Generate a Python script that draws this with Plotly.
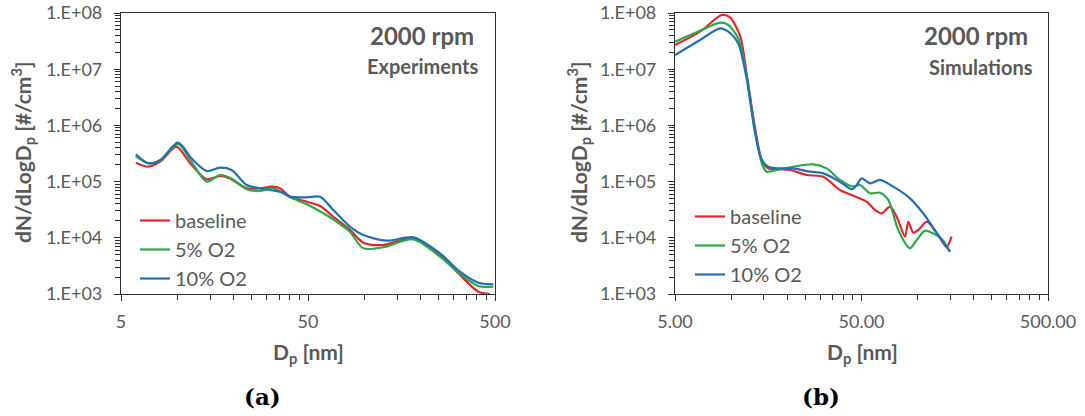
import plotly.graph_objects as go

# ---- Experiments (2000 rpm) : particle size distributions ----
exp_base_dp = [6.0, 7.0, 8.1, 9.9, 11.7, 14.4, 16.9, 19.1, 23.5, 27.7, 32.0, 35.4, 40.1,
               49.2, 58.0, 68.3, 83.8, 98.8, 126, 183, 254, 325, 407, 470]
exp_base_n = [2.17e5, 1.84e5, 2.26e5, 4.18e5, 2.12e5, 1.10e5, 1.26e5, 1.14e5, 7.6e4, 7.6e4,
              8.12e4, 7.6e4, 5.39e4, 4.39e4, 3.68e4, 2.37e4, 1.38e4, 8.18e3, 7.44e3, 9.8e3,
              4.94e3, 2.18e3, 1.10e3, 1.0e3]

exp_o5_dp = [6.0, 7.0, 8.1, 10.1, 11.9, 14.4, 16.9, 19.5, 23.5, 27.7, 32.6, 40.1, 49.2,
             60.4, 71.2, 83.8, 98.8, 126, 183, 254, 325, 407, 490]
exp_o5_n = [2.85e5, 2.12e5, 2.35e5, 4.67e5, 2.26e5, 9.96e4, 1.31e5, 1.14e5, 7.29e4, 6.8e4,
            7.6e4, 5.26e4, 3.95e4, 2.73e4, 1.93e4, 1.28e4, 6.51e3, 6.78e3, 9.4e3, 4.61e3,
            2.27e3, 1.39e3, 1.35e3]

exp_o10_dp = [6.0, 7.0, 8.1, 10.1, 11.9, 14.4, 16.9, 19.5, 23.5, 27.7, 31.3, 36.9, 40.1,
              49.2, 58.0, 68.3, 83.8, 98.8, 132, 183, 254, 325, 407, 490]
exp_o10_n = [3.06e5, 2.12e5, 2.42e5, 4.92e5, 2.6e5, 1.54e5, 1.77e5, 1.61e5, 8.7e4, 7.6e4,
             7.09e4, 6.35e4, 5.39e4, 5.26e4, 5.39e4, 3.12e4, 1.58e4, 1.12e4, 8.88e3, 1.02e4,
             5.3e3, 2.49e3, 1.59e3, 1.49e3]

# ---- Simulations (2000 rpm) ----
sim_base_dp = [5.0, 6.81, 8.9, 9.86, 11.2, 12.1, 13.4, 14.6, 15.8, 18.3, 20.7, 25.4, 31.2,
               38.3, 45.2, 53.3, 59.1, 64.2, 71.1, 77.2, 85.6, 89.1, 94.8, 101, 112, 127,
               143, 152]
sim_base_n = [2.7e7, 4.65e7, 9.21e7, 8.39e7, 3.79e7, 8.45e6, 9.48e5, 2.42e5, 1.72e5, 1.66e5,
              1.61e5, 1.31e5, 1.22e5, 7.09e4, 5.61e4, 4.39e4, 3.12e4, 2.73e4, 3.58e4, 2.37e4,
              1.05e4, 1.93e4, 1.23e4, 1.38e4, 1.93e4, 1.2e4, 6.94e3, 1.05e4]

sim_o5_dp = [5.0, 6.81, 8.72, 9.66, 10.9, 12.1, 13.4, 14.6, 15.5, 17.6, 21.5, 27.6, 32.5,
             38.3, 45.2, 49.1, 55.5, 62.8, 69.6, 78.7, 91.0, 98.8, 109.5, 121, 135, 149]
sim_o5_n = [3.09e7, 4.84e7, 6.72e7, 6.12e7, 3.55e7, 7.89e6, 8.28e5, 2.12e5, 1.5e5, 1.61e5,
            1.84e5, 2.03e5, 1.72e5, 1.07e5, 8.12e4, 8.7e4, 6.19e4, 6.35e4, 4.71e4, 1.38e4,
            6.51e3, 9.14e3, 1.34e4, 1.2e4, 9.4e3, 5.66e3]

sim_o10_dp = [5.0, 6.81, 8.72, 9.66, 10.9, 12.1, 13.4, 14.6, 15.8, 18.3, 21.5, 26.5, 31.2,
              38.3, 44.3, 47.1, 50.1, 55.5, 62.8, 74.0, 91.0, 107, 127, 149]
sim_o10_n = [1.79e7, 3.31e7, 5.34e7, 4.65e7, 2.89e7, 6.89e6, 7.73e5, 2.42e5, 1.84e5, 1.72e5,
             1.72e5, 1.5e5, 1.4e5, 9.96e4, 7.29e4, 8.7e4, 1.14e5, 9.33e4, 1.07e5, 8.12e4,
             5.04e4, 2.73e4, 1.2e4, 5.66e3]

series_names = ["baseline", "5% O2", "10% O2"]
series_colors = ["#e3262b", "#2ea64c", "#2170b1"]

y_tickvals = [1e3, 1e4, 1e5, 1e6, 1e7, 1e8]
y_ticktext = ["1.E+03", "1.E+04", "1.E+05", "1.E+06", "1.E+07", "1.E+08"]
y_minor = [m * 10 ** e for e in range(3, 8) for m in range(2, 10)]
x_tickvals = [5, 50, 500]
x_ticktext_a = ["5", "50", "500"]
x_ticktext_b = ["5.00", "50.00", "500.00"]
x_minor = list(range(10, 50, 5)) + list(range(100, 500, 50))

W, H = 1085, 416
GRAY = "#595959"
AXC = "#303030"
FONT = "Lato"


def px(x):
    return x / W


def py(y):
    return 1 - y / H


fig = go.Figure()

panels = [
    ("x", "y", "legend",
     [(exp_base_dp, exp_base_n), (exp_o5_dp, exp_o5_n), (exp_o10_dp, exp_o10_n)]),
    ("x2", "y2", "legend2",
     [(sim_base_dp, sim_base_n), (sim_o5_dp, sim_o5_n), (sim_o10_dp, sim_o10_n)]),
]
for xa, ya, lg, data in panels:
    for (dp, n), name, col in zip(data, series_names, series_colors):
        fig.add_trace(go.Scatter(
            x=dp, y=n, name=name, mode="lines", xaxis=xa, yaxis=ya, legend=lg,
            line=dict(color=col, width=2.2, shape="spline", smoothing=0.8),
        ))


def xaxis_cfg(domain, ticktext, anchor):
    return dict(
        type="log", range=[0.69897, 2.69897], domain=domain, anchor=anchor,
        automargin=False,
        tickvals=x_tickvals, ticktext=ticktext, ticks="outside", ticklen=6,
        tickcolor=AXC, tickwidth=1, showline=True, linecolor=AXC, linewidth=1.2,
        mirror=True, showgrid=False, zeroline=False, ticklabelstandoff=5,
        tickfont=dict(family=FONT, size=18, color=GRAY),
        minor=dict(tickvals=x_minor, ticks="outside", ticklen=5, tickcolor=AXC,
                   showgrid=False),
    )


def yaxis_cfg(anchor):
    return dict(
        type="log", range=[3, 8], domain=[py(294), py(13)], anchor=anchor,
        automargin=False,
        tickvals=y_tickvals, ticktext=y_ticktext, ticks="outside", ticklen=6,
        tickcolor=AXC, tickwidth=1, showline=True, linecolor=AXC, linewidth=1.2,
        mirror=True, showgrid=False, zeroline=False, ticklabelstandoff=8,
        tickfont=dict(family=FONT, size=18, color=GRAY),
        minor=dict(tickvals=y_minor, ticks="outside", ticklen=5, tickcolor=AXC,
                   showgrid=False),
    )


legend_common = dict(
    font=dict(family=FONT, size=20, color=GRAY), bgcolor="rgba(0,0,0,0)",
    xanchor="left", yanchor="top", itemwidth=30, tracegroupgap=0,
)

fig.update_layout(
    width=W, height=H, autosize=False,
    margin=dict(l=0, r=0, t=0, b=0, autoexpand=False),
    paper_bgcolor="white", plot_bgcolor="white",
    xaxis=xaxis_cfg([px(121), px(495)], x_ticktext_a, "y"),
    yaxis=yaxis_cfg("x"),
    xaxis2=xaxis_cfg([px(675), px(1048)], x_ticktext_b, "y2"),
    yaxis2=yaxis_cfg("x2"),
    legend=dict(x=px(135), y=py(201), **legend_common),
    legend2=dict(x=px(690), y=py(197), **legend_common),
    showlegend=True,
)

ann = []
for rx, label, sub, sub_y in [(476, "2000 rpm", "Experiments", 66),
                              (1030, "2000 rpm", "Simulations", 67)]:
    ann.append(dict(x=px(rx), y=py(35), text=f"<b>{label}</b>", showarrow=False,
                    xanchor="right", yanchor="middle",
                    font=dict(family=FONT, size=24, color=GRAY)))
    ann.append(dict(x=px(rx + 5), y=py(sub_y), text=f"<b>{sub}</b>", showarrow=False,
                    xanchor="right", yanchor="middle",
                    font=dict(family=FONT, size=20, color=GRAY)))

for cx in (22, 578):
    ann.append(dict(x=px(cx), y=py(152), textangle=-90, showarrow=False,
                    text="<b>dN/dLogD<sub>p</sub> [#/cm<sup>3</sup>]</b>",
                    xanchor="center", yanchor="middle",
                    font=dict(family=FONT, size=21, color=GRAY)))

for cx in (308, 862):
    ann.append(dict(x=px(cx), y=py(353), text="<b>D<sub>p</sub> [nm]</b>",
                    showarrow=False, xanchor="center", yanchor="middle",
                    font=dict(family=FONT, size=21, color=GRAY)))

for cx, lab in ((262, "(a)"), (821, "(b)")):
    ann.append(dict(x=px(cx), y=py(396), text=f"<b>{lab}</b>", showarrow=False,
                    xanchor="center", yanchor="middle",
                    font=dict(family="DejaVu Serif", size=23, color="black")))

for a in ann:
    a.update(xref="paper", yref="paper")
fig.update_layout(annotations=ann)

fig.write_html("out.html")
